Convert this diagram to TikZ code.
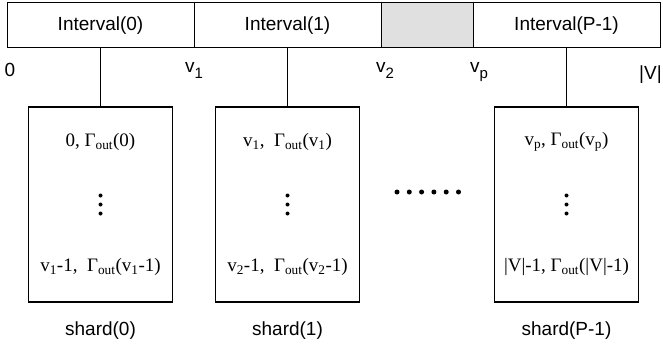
\documentclass[tikz,border=0pt]{standalone}
\usepackage{fontspec}
\setmainfont{Liberation Serif}
\newfontfamily\arialfont{Liberation Sans}
\usetikzlibrary{positioning}

% lowered index for the sans labels under the bar
\newcommand{\lowidx}[1]{\raisebox{-6pt}{\fontsize{15}{15}\selectfont #1}}

\tikzset{
	cell/.style={rectangle, draw, line width=1pt, outer sep=0pt, inner sep=0pt,
		minimum width=187pt, minimum height=45pt, font=\arialfont\fontsize{19}{21}\selectfont},
	shardbox/.style={rectangle, draw, line width=1.4pt, outer sep=0pt,
		minimum width=144pt, minimum height=195pt},
	entry/.style={inner sep=0pt, font=\fontsize{19}{21}\selectfont},
	vxlabel/.style={inner sep=0pt, anchor=base, font=\arialfont\fontsize{19}{21}\selectfont},
	shardname/.style={inner sep=0pt, font=\arialfont\fontsize{19}{21}\selectfont}
}

\begin{document}
\begin{tikzpicture}[x=1pt, y=-1pt]
	\clip (0,0) rectangle (663,350);

	% the interval bar
	\node[cell] (iv0) at (100.5,25.5) {Interval(0)};
	\node[cell, right=0pt of iv0] (iv1) {Interval(1)};
	\node[cell, fill=black!12, minimum width=92pt, right=0pt of iv1] (ivg) {};
	\node[cell, right=0pt of ivg] (ivp) {Interval(P-1)};

	% vertex ids under the bar
	\node[vxlabel] (m0) at (10,77) {0};
	\node[vxlabel] (m1) at (194,73) {v\lowidx{1}};
	\node[vxlabel] (m2) at (385,73) {v\lowidx{2}};
	\node[vxlabel] (mp) at (479,73) {v\lowidx{p}};
	\node[vxlabel, anchor=base west] (mv) at (639,80) {|V|};

	% shards
	\node[shardbox, below=59pt of iv0] (sh0) {};
	\node[shardbox, below=59pt of iv1] (sh1) {};
	\node[shardbox, below=59pt of ivp] (shp) {};
	\draw[line width=1.2pt] (iv0) -- (sh0);
	\draw[line width=1.2pt] (iv1) -- (sh1);
	\draw[line width=1.2pt] (ivp) -- (shp);

	\node[entry] (t0) at ([yshift=-35pt]sh0.north) {0, Γ\textsubscript{out}(0)};
	\node[entry] (b0) at ([yshift=35pt]sh0.south) {v\textsubscript{1}-1,~~Γ\textsubscript{out}(v\textsubscript{1}-1)};
	\node[entry] (t1) at ([yshift=-35pt]sh1.north) {v\textsubscript{1},~~Γ\textsubscript{out}(v\textsubscript{1})};
	\node[entry] (b1) at ([yshift=35pt]sh1.south) {v\textsubscript{2}-1,~~Γ\textsubscript{out}(v\textsubscript{2}-1)};
	\node[entry] (tp) at ([yshift=-35pt]shp.north) {v\textsubscript{p}, Γ\textsubscript{out}(v\textsubscript{p})};
	\node[entry] (bp) at ([yshift=35pt]shp.south) {|V|-1, Γ\textsubscript{out}(|V|-1)};

	\foreach \s in {sh0,sh1,shp}
		\foreach \k in {-9,0,9}
			\fill ([yshift=\k pt]\s.center) circle (2pt);

	\node[shardname, below=20pt of sh0] (n0) {shard(0)};
	\node[shardname, below=20pt of sh1] (n1) {shard(1)};
	\node[shardname, below=20pt of shp] (np) {shard(P-1)};

	% more shards in between
	\foreach \i in {0,...,5}
		\fill (397+12.3*\i,192) circle (2.5pt);
\end{tikzpicture}
\end{document}
